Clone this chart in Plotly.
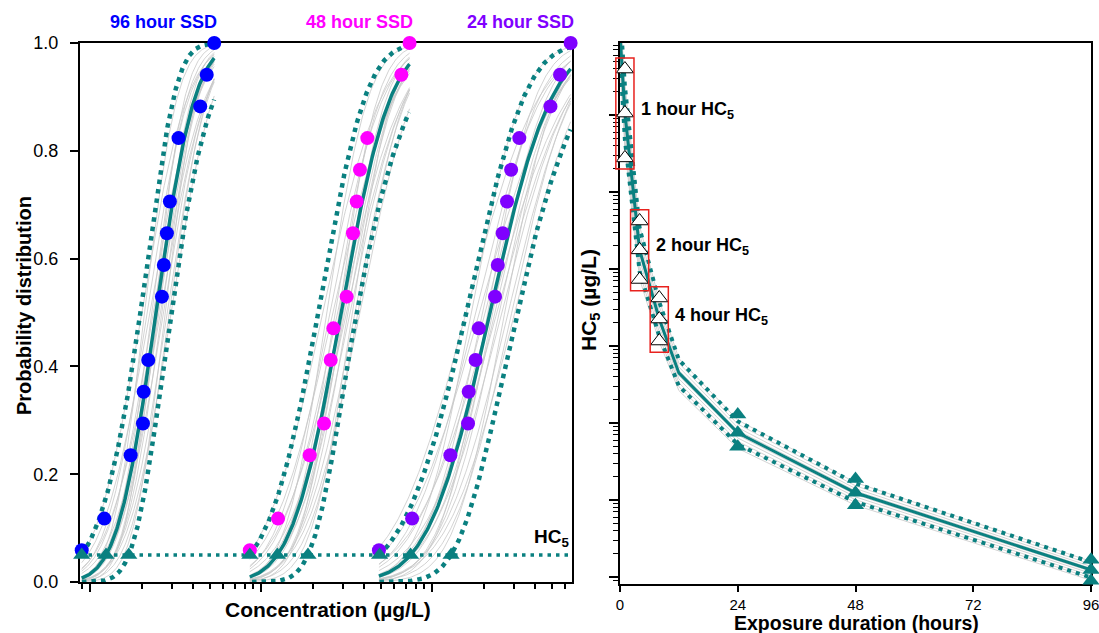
import numpy as np
import plotly.graph_objects as go
from math import erf, sqrt, log10

FONT = "Liberation Sans, Arial, Helvetica, sans-serif"
TEAL = "#0a8080"
GRAY = "#c8c8c8"
RED = "#e8221e"

# ---------------- Left panel: species sensitivity distributions ----------------
ssd_labels = ["96 hour SSD", "48 hour SSD", "24 hour SSD"]
ssd_colors = ["#0000FF", "#FF00FF", "#7F00FF"]
n_species = 17

rank_96 = [1, 2, 4, 5, 6, 7, 9, 10, 11, 12, 14, 15, 16, 17]
conc_96 = [0.891, 1.208, 1.722, 2.032, 2.051, 2.183, 2.624, 2.692, 2.805, 2.921, 3.281, 4.395, 4.797, 5.305]
rank_48 = [1, 2, 4, 5, 7, 8, 9, 11, 12, 13, 14, 16, 17]
conc_48 = [8.57, 12.53, 19.19, 23.28, 25.47, 26.42, 31.55, 34.36, 36.14, 37.76, 41.69, 65.92, 73.62]
rank_24 = [1, 2, 4, 5, 6, 7, 8, 9, 10, 11, 12, 13, 14, 15, 16, 17]
conc_24 = [48.75, 76.21, 127.6, 161.8, 163.3, 179.1, 187.1, 232.8, 241.5, 258.2, 273.5, 289.1, 322.8, 490.9, 558.5, 644.2]

# log-normal fit (log10 units) and confidence band parameters
fit_mu_log = [0.385, 1.467, 2.338]
fit_sd_log = [0.178, 0.227, 0.283]
ci_a_lower = [0.092, 0.134, 0.138]
ci_b_lower = [0.066, 0.054, 0.071]
ci_a_upper = [0.087, 0.091, 0.157]
ci_b_upper = [0.061, 0.094, 0.108]

# HC5 estimates (lower CI, median, upper CI), ug/L
hc5_lower = [0.891, 8.57, 49.2]
hc5_median = [1.236, 12.42, 74.6]
hc5_upper = [1.679, 18.75, 128.8]
hc5_level = 0.05

# bootstrap replicate offsets (fraction of band width, fraction of sd)
boot_dmu = [-0.95, -0.75, -0.58, -0.42, -0.3, -0.2, -0.1, -0.03, 0.03, 0.1, 0.18, 0.27, 0.36, 0.46, 0.58, 0.72, 0.86, 0.97]
boot_dsd = [0.18, -0.16, 0.08, 0.24, -0.08, 0.14, -0.22, 0.04, 0.26, -0.12, 0.0, 0.2, -0.05, 0.12, -0.18, 0.06, -0.02, 0.1]

conc_range_log = [-0.0602, 2.817]
prob_ticks = [0.0, 0.2, 0.4, 0.6, 0.8, 1.0]
prob_ticktext = ["0.0", "0.2", "0.4", "0.6", "0.8", "1.0"]

# ---------------- Right panel: HC5 versus exposure duration ----------------
hours = [0.1, 1, 4, 8, 12, 24, 48, 96]
hc5_t_median = [8.9e6, 1.06e6, 1.77e4, 2.24e3, 447.0, 74.6, 12.42, 1.236]
hc5_t_upper = [1.78e7, 2.38e6, 3.37e4, 3.72e3, 661.0, 105.4, 16.4, 1.556]
hc5_t_lower = [4.47e6, 4.74e5, 9.27e3, 1.35e3, 302.0, 52.8, 9.42, 0.982]
boot_t_factor = [-1.35, -1.05, -0.75, -0.45, -0.2, 0.2, 0.45, 0.75, 1.1]

early_hours = [1, 4, 8]
early_labels = ["1 hour HC<sub>5</sub>", "2 hour HC<sub>5</sub>", "4 hour HC<sub>5</sub>"]
early_lower = [2.77e5, 7.31e3, 1.16e3]
early_median = [1.06e6, 1.77e4, 2.24e3]
early_upper = [3.95e6, 4.20e4, 4.20e3]
late_hours = [96, 48, 24]  # same order as the SSD lists

hours_ticks = [0, 24, 48, 72, 96]
hours_range = [0, 96]
hc5_range_log = [-0.091, 6.935]


def ncdf(z):
    return 0.5 * (1.0 + erf(z / sqrt(2.0)))


fig = go.Figure()

# ---------- left panel traces ----------
for k in range(3):
    conc = [conc_96, conc_48, conc_24][k]
    mu, sd = fit_mu_log[k], fit_sd_log[k]
    lo_l, hi_l = log10(min(conc)), log10(max(conc))
    Lg = np.linspace(lo_l, hi_l, 160)
    a_mid = 0.5 * (ci_a_lower[k] + ci_a_upper[k])
    for dm, ds in zip(boot_dmu, boot_dsd):
        m2, s2 = mu + dm * a_mid, sd * (1 + ds)
        fig.add_trace(go.Scatter(x=10 ** Lg, y=[ncdf((v - m2) / s2) for v in Lg], mode="lines",
                                 line=dict(color=GRAY, width=0.8), hoverinfo="skip",
                                 xaxis="x", yaxis="y"))
    zg = np.linspace(-4, 4, 400)
    for sign, a, b in [(-1, ci_a_lower[k], ci_b_lower[k]), (1, ci_a_upper[k], ci_b_upper[k])]:
        Lb = mu + zg * sd + sign * np.sqrt(a ** 2 + (b * zg) ** 2)
        keep = (Lb >= lo_l) & (Lb <= hi_l)
        fig.add_trace(go.Scatter(x=10 ** Lb[keep], y=[ncdf(z) for z in zg[keep]], mode="lines",
                                 line=dict(color=TEAL, width=4.5, dash="4.5px,5px"), hoverinfo="skip",
                                 xaxis="x", yaxis="y"))
    fig.add_trace(go.Scatter(x=10 ** Lg, y=[ncdf((v - mu) / sd) for v in Lg], mode="lines",
                             line=dict(color=TEAL, width=3.5), xaxis="x", yaxis="y"))

fig.add_trace(go.Scatter(x=[10 ** conc_range_log[0], 10 ** conc_range_log[1]], y=[hc5_level, hc5_level],
                         mode="lines", line=dict(color=TEAL, width=3.5, dash="3.5px,5px"),
                         xaxis="x", yaxis="y"))

for k in range(3):
    conc = [conc_96, conc_48, conc_24][k]
    rank = [rank_96, rank_48, rank_24][k]
    fig.add_trace(go.Scatter(x=conc, y=[r / n_species for r in rank], mode="markers",
                             marker=dict(color=ssd_colors[k], size=14, line=dict(width=0)),
                             cliponaxis=False, xaxis="x", yaxis="y"))
for k in range(3):
    fig.add_trace(go.Scatter(x=[hc5_lower[k], hc5_median[k], hc5_upper[k]], y=[hc5_level] * 3,
                             mode="markers", marker=dict(symbol="triangle-up", color=TEAL, size=15),
                             cliponaxis=False, xaxis="x", yaxis="y"))

# ---------- right panel traces ----------
med_log = np.log10(hc5_t_median)
up_log = np.log10(hc5_t_upper)
lo_log = np.log10(hc5_t_lower)
for f in boot_t_factor:
    vals = med_log + (f * (up_log - med_log) if f > 0 else -f * (lo_log - med_log))
    fig.add_trace(go.Scatter(x=hours, y=10 ** vals, mode="lines", line=dict(color=GRAY, width=0.8),
                             xaxis="x2", yaxis="y2"))
for band in [hc5_t_upper, hc5_t_lower]:
    fig.add_trace(go.Scatter(x=hours, y=band, mode="lines",
                             line=dict(color=TEAL, width=4, dash="4px,5px"), xaxis="x2", yaxis="y2"))
fig.add_trace(go.Scatter(x=hours, y=hc5_t_median, mode="lines", line=dict(color=TEAL, width=3),
                         xaxis="x2", yaxis="y2"))

for k in range(3):
    t = late_hours[k]
    fig.add_trace(go.Scatter(x=[t] * 3, y=[hc5_lower[k], hc5_median[k], hc5_upper[k]], mode="markers",
                             marker=dict(symbol="triangle-up", color=TEAL, size=15),
                             cliponaxis=False, xaxis="x2", yaxis="y2"))
for k in range(3):
    t = early_hours[k]
    fig.add_trace(go.Scatter(x=[t] * 3, y=[early_lower[k], early_median[k], early_upper[k]], mode="markers",
                             marker=dict(symbol="triangle-up", color="white", size=15,
                                         line=dict(color="black", width=1)),
                             cliponaxis=False, xaxis="x2", yaxis="y2"))

shapes = []
ymin, ymax = hc5_range_log
box_half_h = 1.85
box_pad = 0.145
for k in range(3):
    t = early_hours[k]
    shapes.append(dict(type="rect", xref="x2 domain", yref="y2 domain",
                       x0=(t - box_half_h - hours_range[0]) / (hours_range[1] - hours_range[0]),
                       x1=(t + box_half_h - hours_range[0]) / (hours_range[1] - hours_range[0]),
                       y0=(log10(early_lower[k]) - box_pad - ymin) / (ymax - ymin),
                       y1=(log10(early_upper[k]) + box_pad - ymin) / (ymax - ymin),
                       line=dict(color=RED, width=1.5), fillcolor="rgba(0,0,0,0)", layer="above"))

annotations = []
for k in range(3):
    conc = [conc_96, conc_48, conc_24][k]
    annotations.append(dict(xref="x", yref="y", x=log10(max(conc)), y=1.0, xanchor="right", yanchor="middle",
                            xshift=5, yshift=21, showarrow=False, text="<b>" + ssd_labels[k] + "</b>",
                            font=dict(family=FONT, size=18, color=ssd_colors[k])))
annotations.append(dict(xref="x domain", yref="y", x=1, y=hc5_level, xanchor="right", yanchor="bottom",
                        xshift=-1, yshift=3, showarrow=False, text="<b>HC<sub>5</sub></b>",
                        font=dict(family=FONT, size=19, color="black")))
for k in range(3):
    annotations.append(dict(xref="x2", yref="y2", x=early_hours[k], y=log10(early_median[k]),
                            xanchor="left", yanchor="middle", xshift=14, yshift=3, showarrow=False,
                            text="<b>" + early_labels[k] + "</b>",
                            font=dict(family=FONT, size=18, color="black")))
W, H = 1099, 633
annotations += [
    dict(xref="paper", yref="paper", x=24 / W, y=1 - 306 / H, xanchor="center", yanchor="middle",
         textangle=-90, showarrow=False,
         text="<b>Probability distribution</b>", font=dict(family=FONT, size=20, color="black")),
    dict(xref="paper", yref="paper", x=328 / W, y=1 - 609 / H, xanchor="center", yanchor="middle",
         showarrow=False, text="<b>Concentration (µg/L)</b>", font=dict(family=FONT, size=21, color="black")),
    dict(xref="paper", yref="paper", x=856 / W, y=1 - 622.5 / H, xanchor="center", yanchor="middle",
         showarrow=False, text="<b>Exposure duration (hours)</b>", font=dict(family=FONT, size=19.5, color="black")),
    dict(xref="paper", yref="paper", x=590 / W, y=1 - 300 / H, xanchor="center", yanchor="middle",
         textangle=-90, showarrow=False,
         text="<b>HC<sub>5</sub> (µg/L)</b>", font=dict(family=FONT, size=21, color="black")),
]

conc_minor = [0.9] + [k for k in range(2, 10)] + [k * 10 for k in range(2, 10)] + [k * 100 for k in range(2, 7)]
hc5_major = [10 ** d for d in range(0, 7)]
hc5_minor = [k * 10 ** d for d in range(-1, 7) for k in range(2, 10)
             if hc5_range_log[0] <= log10(k * 10 ** d) <= hc5_range_log[1]]

common = dict(showgrid=False, zeroline=False, showline=True, linecolor="black", linewidth=2,
              mirror=True, ticks="outside", tickcolor="black", tickwidth=1.5, layer="below traces",
              automargin=False)

fig.update_layout(
    width=W, height=H, margin=dict(l=0, r=0, t=0, b=0, pad=0, autoexpand=False),
    paper_bgcolor="white", plot_bgcolor="white", showlegend=False,
    font=dict(family=FONT, color="black"),
    xaxis=dict(type="log", range=conc_range_log, domain=[80 / W, 572 / W], anchor="y",
               tickmode="array", tickvals=[1, 10, 100], ticklen=8, showticklabels=False,
               minor=dict(tickmode="array", tickvals=conc_minor, ticks="outside", ticklen=5,
                          tickwidth=1.5, tickcolor="black"), **common),
    yaxis=dict(range=[0, 1], domain=[1 - 582 / H, 1 - 43 / H], anchor="x",
               tickmode="array", tickvals=prob_ticks, ticktext=prob_ticktext, ticklen=8,
               tickfont=dict(family=FONT, size=18), ticklabelstandoff=8, **common),
    xaxis2=dict(range=hours_range, domain=[620 / W, 1091 / W], anchor="y2",
                tickmode="array", tickvals=hours_ticks, ticklen=6, ticklabeloverflow="allow",
                tickfont=dict(family=FONT, size=15), ticklabelstandoff=0, **common),
    yaxis2=dict(type="log", range=hc5_range_log, domain=[1 - 584 / H, 1 - 43 / H], anchor="x2",
                tickmode="array", tickvals=hc5_major, ticklen=9, showticklabels=False,
                minor=dict(tickmode="array", tickvals=hc5_minor, ticks="outside", ticklen=5,
                           tickwidth=1.2, tickcolor="black"), **common),
    shapes=shapes, annotations=annotations,
)

fig.write_html("out.html", config={"displayModeBar": False},
               post_script="document.body.style.margin='0';document.body.style.padding='0';")
